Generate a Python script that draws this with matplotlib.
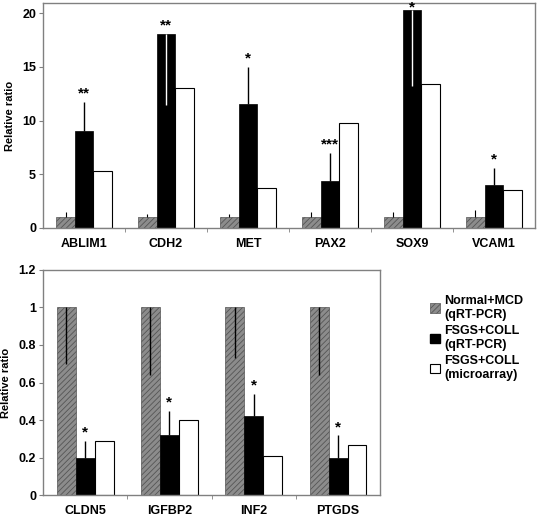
import numpy as np
import matplotlib
matplotlib.use("Agg")
import matplotlib.pyplot as plt
from matplotlib.patches import Patch

plt.rcParams['font.family'] = ['Liberation Sans', 'DejaVu Sans']
plt.rcParams['font.weight'] = 'bold'
plt.rcParams['hatch.linewidth'] = 0.6

# top panel data
genes_top = ['ABLIM1', 'CDH2', 'MET', 'PAX2', 'SOX9', 'VCAM1']
normal_top = [1, 1, 1, 1, 1, 1]
normal_top_err = [0.5, 0.3, 0.3, 0.5, 0.5, 0.7]
fsgs_top = [9.0, 18.05, 11.55, 4.35, 20.3, 4.0]
fsgs_top_up = [2.7, 0, 3.4, 2.65, 0, 1.6]
fsgs_top_down = [0, 6.6, 0, 0, 7.1, 0]
micro_top = [5.27, 13.0, 3.7, 9.78, 13.4, 3.5]
stars_top = ['**', '**', '*', '***', '*', '*']

# bottom panel data
genes_bot = ['CLDN5', 'IGFBP2', 'INF2', 'PTGDS']
normal_bot = [1, 1, 1, 1]
normal_bot_down = [0.30, 0.36, 0.27, 0.36]
fsgs_bot = [0.20, 0.32, 0.42, 0.20]
fsgs_bot_up = [0.09, 0.13, 0.12, 0.12]
micro_bot = [0.29, 0.40, 0.21, 0.27]
stars_bot = ['*', '*', '*', '*']

legend_labels = ['Normal+MCD\n(qRT-PCR)', 'FSGS+COLL\n(qRT-PCR)', 'FSGS+COLL\n(microarray)']

gray_fc = '#8c8c8c'
gray_ec = '#555555'
spine_c = '#808080'
w = 0.225

fig = plt.figure(figsize=(5.37, 5.18), dpi=100)
ax1 = fig.add_axes([0.080, 0.560, 0.916, 0.434])
ax2 = fig.add_axes([0.080, 0.044, 0.628, 0.435])


def style_axis(ax, n, labels, ymax, yticks, ytl):
    ax.set_xlim(-0.5, n - 0.5)
    ax.set_ylim(0, ymax)
    ax.set_xticks(np.arange(n))
    ax.set_xticklabels(labels, fontsize=9, fontweight='bold')
    ax.set_xticks(np.arange(n - 1) + 0.5, minor=True)
    ax.tick_params(axis='x', which='major', length=0, pad=7)
    ax.tick_params(axis='x', which='minor', length=3, color=spine_c)
    ax.set_yticks(yticks)
    ax.set_yticklabels(ytl, fontsize=9, fontweight='bold')
    ax.tick_params(axis='y', length=3, color=spine_c, pad=2)
    for s in ax.spines.values():
        s.set_color(spine_c)
        s.set_linewidth(1.0)
    ax.set_ylabel('Relative ratio', fontsize=8, fontweight='bold', labelpad=5)


# top
x = np.arange(len(genes_top))
ax1.bar(x - w, normal_top, w, color=gray_fc, edgecolor=gray_ec, hatch='//////', linewidth=0.5)
ax1.bar(x, fsgs_top, w, color='black', edgecolor='black', linewidth=0.5)
ax1.bar(x + w, micro_top, w, color='white', edgecolor='black', linewidth=0.8)
ax1.errorbar(x - w, normal_top, yerr=[np.zeros(len(x)), normal_top_err], fmt='none', ecolor='black', elinewidth=0.8, capsize=0)
ax1.errorbar(x, fsgs_top, yerr=[np.zeros(len(x)), fsgs_top_up], fmt='none', ecolor='black', elinewidth=1.0, capsize=0)
ax1.errorbar(x, fsgs_top, yerr=[fsgs_top_down, np.zeros(len(x))], fmt='none', ecolor='white', elinewidth=1.0, capsize=0)
for i in range(len(x)):
    top = min(fsgs_top[i] + fsgs_top_up[i] + 0.15, 19.9)
    ax1.text(x[i], top, stars_top[i], ha='center', va='bottom', fontsize=11, fontweight='bold', clip_on=False)
style_axis(ax1, len(genes_top), genes_top, 20.94, [0, 5, 10, 15, 20], ['0', '5', '10', '15', '20'])

# bottom
x = np.arange(len(genes_bot))
ax2.bar(x - w, normal_bot, w, color=gray_fc, edgecolor=gray_ec, hatch='//////', linewidth=0.5)
ax2.bar(x, fsgs_bot, w, color='black', edgecolor='black', linewidth=0.5)
ax2.bar(x + w, micro_bot, w, color='white', edgecolor='black', linewidth=0.8)
ax2.errorbar(x - w, normal_bot, yerr=[normal_bot_down, np.zeros(len(x))], fmt='none', ecolor='black', elinewidth=1.0, capsize=0)
ax2.errorbar(x, fsgs_bot, yerr=[np.zeros(len(x)), fsgs_bot_up], fmt='none', ecolor='black', elinewidth=1.0, capsize=0)
for i in range(len(x)):
    top = fsgs_bot[i] + fsgs_bot_up[i]
    ax2.text(x[i], top + 0.005, stars_bot[i], ha='center', va='bottom', fontsize=11, fontweight='bold')
style_axis(ax2, len(genes_bot), genes_bot, 1.2, [0, 0.2, 0.4, 0.6, 0.8, 1.0, 1.2],
           ['0', '0.2', '0.4', '0.6', '0.8', '1', '1.2'])

handles = [Patch(facecolor=gray_fc, edgecolor=gray_ec, hatch='//////', linewidth=0.5),
           Patch(facecolor='black', edgecolor='black'),
           Patch(facecolor='white', edgecolor='black', linewidth=0.8)]
fig.legend(handles, legend_labels, loc='upper left', bbox_to_anchor=(0.792, 0.44),
           frameon=False, fontsize=9, handlelength=0.8, handleheight=0.8,
           handletextpad=0.3, labelspacing=0.35, borderaxespad=0)

fig.savefig('out.png', dpi=100)
